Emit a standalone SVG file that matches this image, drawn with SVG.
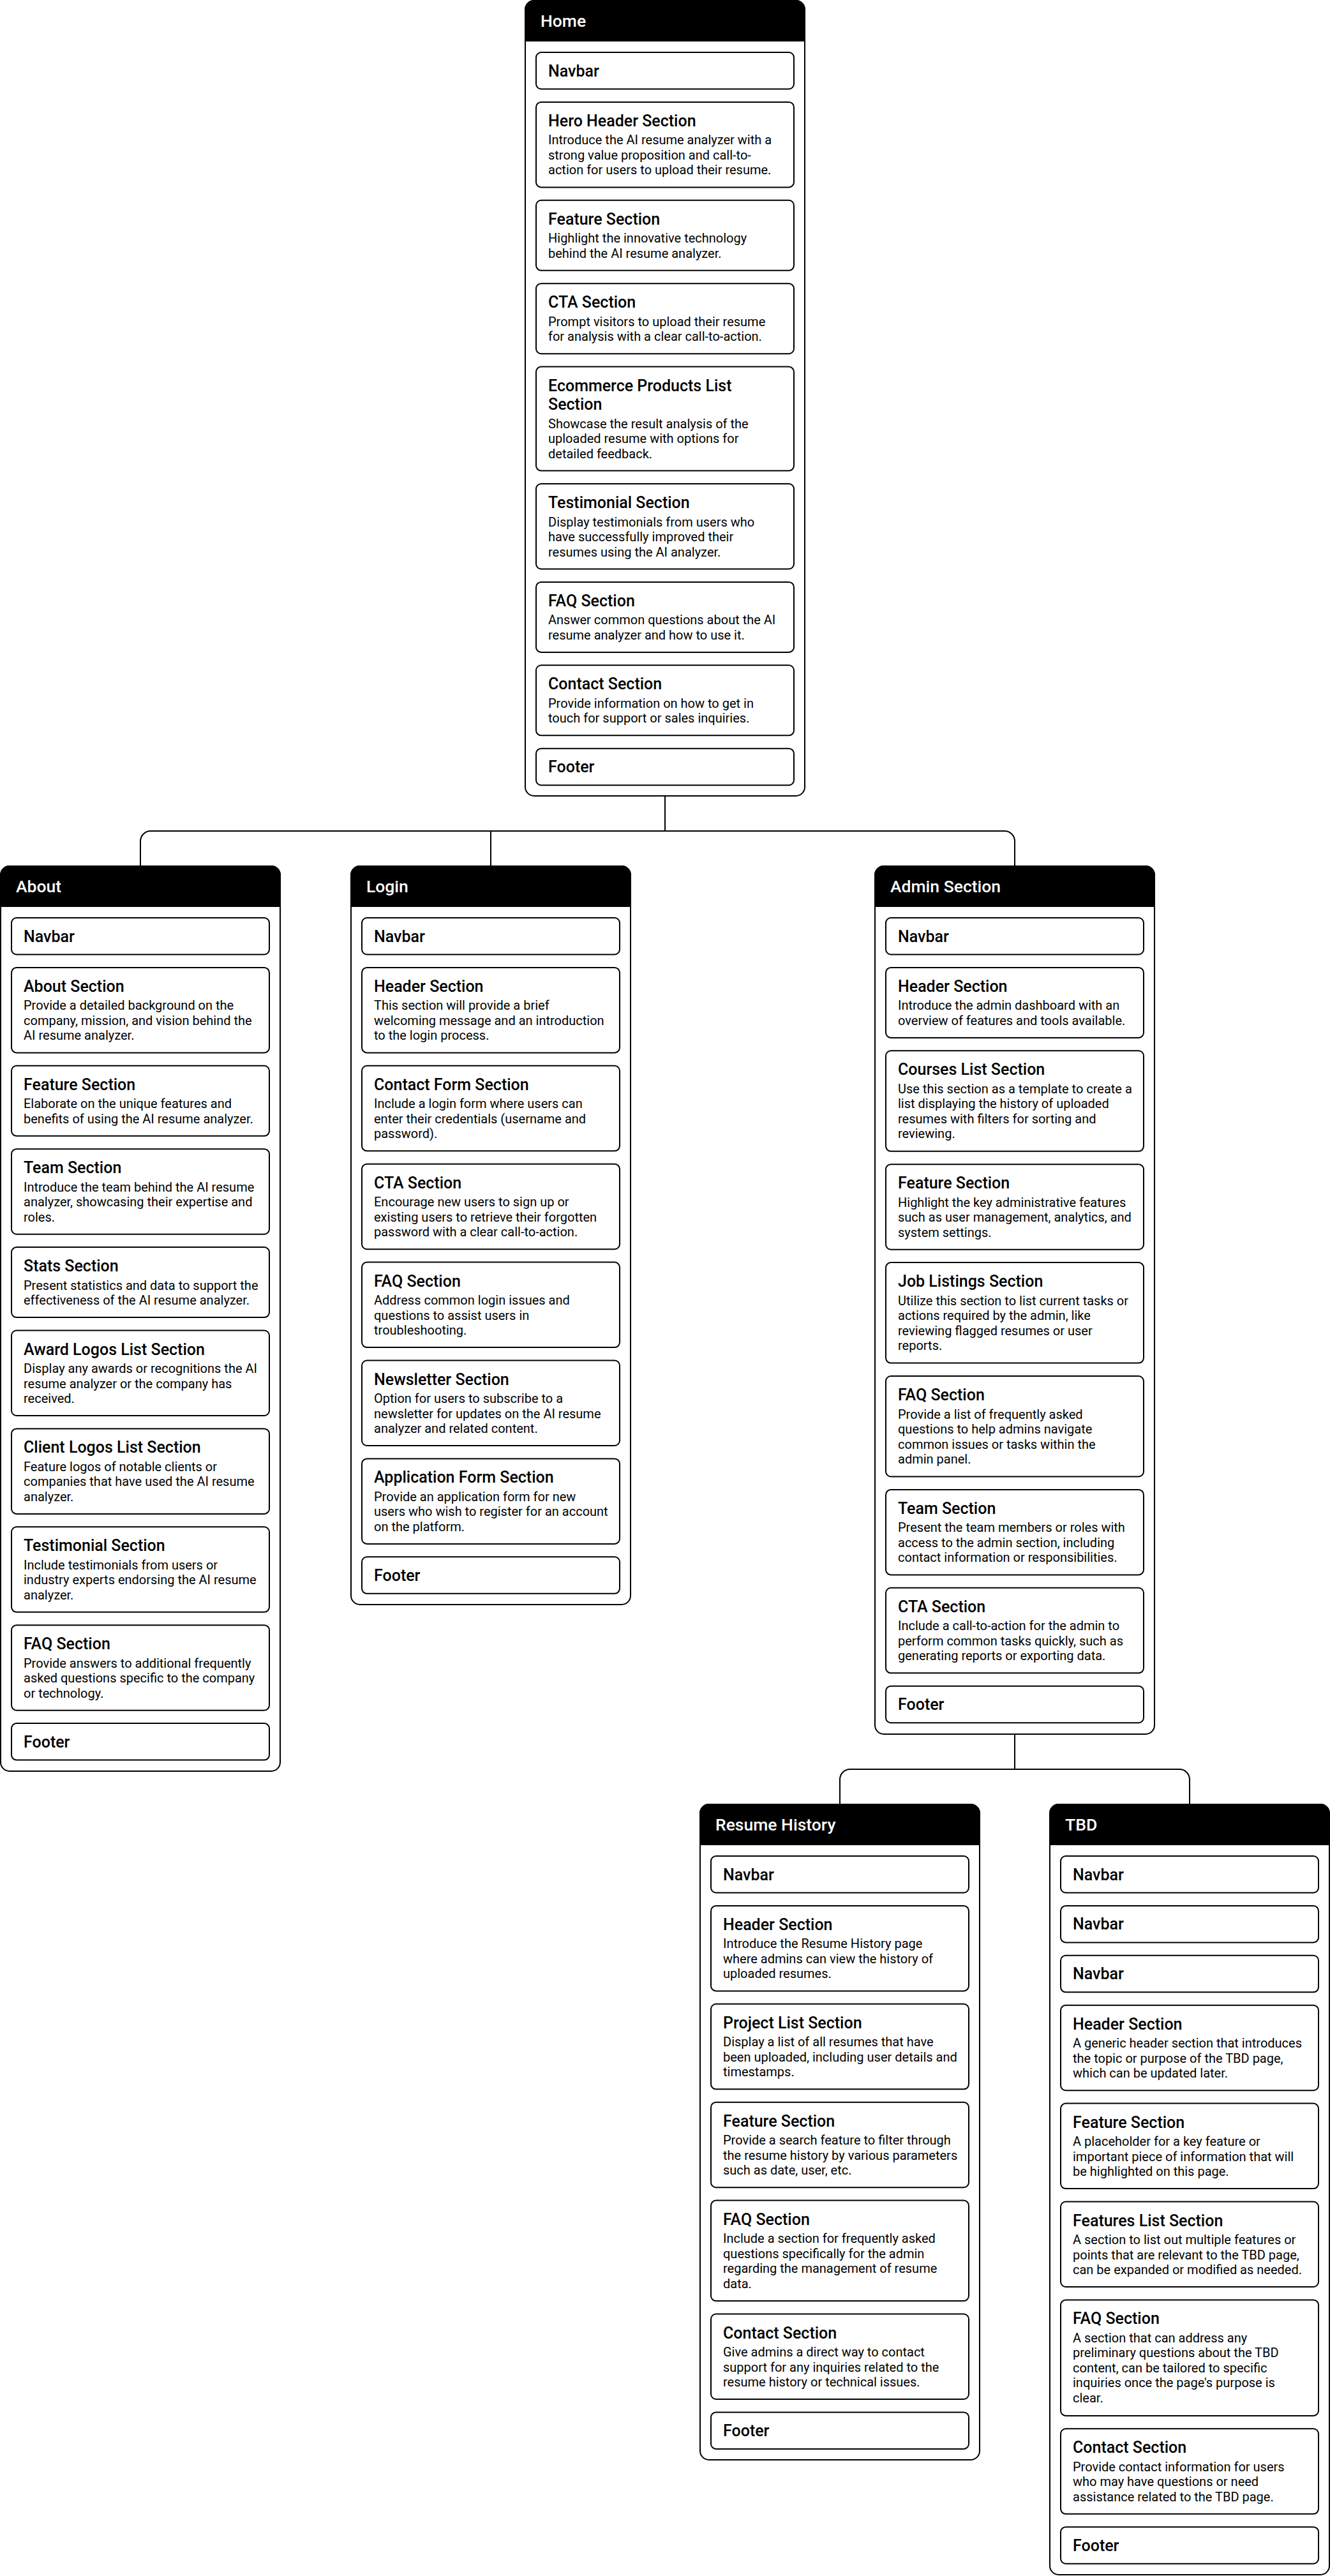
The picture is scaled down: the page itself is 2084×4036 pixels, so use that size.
<svg xmlns="http://www.w3.org/2000/svg" width="2084" height="4036" viewBox="0 0 2084 4036">
<style>
.bg{fill:#fff}
.outer{fill:#fff;stroke:#000;stroke-width:2}
.hdr{fill:#000;stroke:#000;stroke-width:2}
.ht{font-family:Roboto,"Liberation Sans",sans-serif;font-weight:500;font-size:26.5px;fill:#fff}
.box{fill:#fff;stroke:#000;stroke-width:2}
.t{font-family:Roboto,"Liberation Sans",sans-serif;font-weight:500;font-size:25px;fill:#000}
.d{font-family:Roboto,"Liberation Sans",sans-serif;font-weight:400;font-size:20px;fill:#000}
.conn{fill:none;stroke:#000;stroke-width:2}
</style>
<rect class="bg" x="0" y="0" width="2084" height="4036"/>
<g id="connectors">
<path class="conn" d="M1042,1247 V1302"/>
<path class="conn" d="M220,1357 V1318 A16,16 0 0 1 236,1302 H1574 A16,16 0 0 1 1590,1318 V1357"/>
<path class="conn" d="M769,1302 V1357"/>
<path class="conn" d="M1590,2717 V2772"/>
<path class="conn" d="M1316,2827 V2788 A16,16 0 0 1 1332,2772 H1848 A16,16 0 0 1 1864,2788 V2827"/>
</g>

<g id="home">
<rect class="outer" x="823" y="1" width="438" height="1246" rx="14"/>
<path class="hdr" d="M823,64 V15 A14,14 0 0 1 837,1 H1247 A14,14 0 0 1 1261,15 V64 Z"/>
<text class="ht" x="847" y="41.5">Home</text>
<g id="home-navbar"><rect class="box" x="840" y="82" width="404" height="57.5" rx="8"/><text class="t" x="859" y="119.5">Navbar</text></g>
<g id="home-hero"><rect class="box" x="840" y="159.9" width="404" height="133.5" rx="8"/><text class="t" x="859" y="197.9">Hero Header Section</text>
<text class="d"><tspan x="859" y="226.4">Introduce the AI resume analyzer with a</tspan><tspan x="859" y="249.9">strong value proposition and call-to-</tspan><tspan x="859" y="273.4">action for users to upload their resume.</tspan></text></g>
<g id="home-feature"><rect class="box" x="840" y="313.8" width="404" height="110" rx="8"/><text class="t" x="859" y="351.8">Feature Section</text>
<text class="d"><tspan x="859" y="380.3">Highlight the innovative technology</tspan><tspan x="859" y="403.8">behind the AI resume analyzer.</tspan></text></g>
<g id="home-cta"><rect class="box" x="840" y="444.2" width="404" height="110" rx="8"/><text class="t" x="859" y="482.2">CTA Section</text>
<text class="d"><tspan x="859" y="510.7">Prompt visitors to upload their resume</tspan><tspan x="859" y="534.2">for analysis with a clear call-to-action.</tspan></text></g>
<g id="home-ecommerce"><rect class="box" x="840" y="574.6" width="404" height="163" rx="8"/><text class="t"><tspan x="859" y="612.6">Ecommerce Products List</tspan><tspan x="859" y="642.1">Section</tspan></text>
<text class="d"><tspan x="859" y="670.6">Showcase the result analysis of the</tspan><tspan x="859" y="694.1">uploaded resume with options for</tspan><tspan x="859" y="717.6">detailed feedback.</tspan></text></g>
<g id="home-testimonial"><rect class="box" x="840" y="758" width="404" height="133.5" rx="8"/><text class="t" x="859" y="796">Testimonial Section</text>
<text class="d"><tspan x="859" y="824.5">Display testimonials from users who</tspan><tspan x="859" y="848">have successfully improved their</tspan><tspan x="859" y="871.5">resumes using the AI analyzer.</tspan></text></g>
<g id="home-faq"><rect class="box" x="840" y="911.9" width="404" height="110" rx="8"/><text class="t" x="859" y="949.9">FAQ Section</text>
<text class="d"><tspan x="859" y="978.4">Answer common questions about the AI</tspan><tspan x="859" y="1001.9">resume analyzer and how to use it.</tspan></text></g>
<g id="home-contact"><rect class="box" x="840" y="1042.3" width="404" height="110" rx="8"/><text class="t" x="859" y="1080.3">Contact Section</text>
<text class="d"><tspan x="859" y="1108.8">Provide information on how to get in</tspan><tspan x="859" y="1132.3">touch for support or sales inquiries.</tspan></text></g>
<g id="home-footer"><rect class="box" x="840" y="1172.7" width="404" height="57.5" rx="8"/><text class="t" x="859" y="1210.2">Footer</text></g>
</g>

<g id="about">
<rect class="outer" x="1" y="1357" width="438" height="1418" rx="14"/>
<path class="hdr" d="M1,1420 V1371 A14,14 0 0 1 15,1357 H425 A14,14 0 0 1 439,1371 V1420 Z"/>
<text class="ht" x="25" y="1397.5">About</text>
<g id="about-navbar"><rect class="box" x="18" y="1438" width="404" height="57.5" rx="8"/><text class="t" x="37" y="1475.5">Navbar</text></g>
<g id="about-about"><rect class="box" x="18" y="1515.9" width="404" height="133.5" rx="8"/><text class="t" x="37" y="1553.9">About Section</text>
<text class="d"><tspan x="37" y="1582.4">Provide a detailed background on the</tspan><tspan x="37" y="1605.9">company, mission, and vision behind the</tspan><tspan x="37" y="1629.4">AI resume analyzer.</tspan></text></g>
<g id="about-feature"><rect class="box" x="18" y="1669.8" width="404" height="110" rx="8"/><text class="t" x="37" y="1707.8">Feature Section</text>
<text class="d"><tspan x="37" y="1736.3">Elaborate on the unique features and</tspan><tspan x="37" y="1759.8">benefits of using the AI resume analyzer.</tspan></text></g>
<g id="about-team"><rect class="box" x="18" y="1800.2" width="404" height="133.5" rx="8"/><text class="t" x="37" y="1838.2">Team Section</text>
<text class="d"><tspan x="37" y="1866.7">Introduce the team behind the AI resume</tspan><tspan x="37" y="1890.2">analyzer, showcasing their expertise and</tspan><tspan x="37" y="1913.7">roles.</tspan></text></g>
<g id="about-stats"><rect class="box" x="18" y="1954.1" width="404" height="110" rx="8"/><text class="t" x="37" y="1992.1">Stats Section</text>
<text class="d"><tspan x="37" y="2020.6">Present statistics and data to support the</tspan><tspan x="37" y="2044.1">effectiveness of the AI resume analyzer.</tspan></text></g>
<g id="about-award"><rect class="box" x="18" y="2084.5" width="404" height="133.5" rx="8"/><text class="t" x="37" y="2122.5">Award Logos List Section</text>
<text class="d"><tspan x="37" y="2151">Display any awards or recognitions the AI</tspan><tspan x="37" y="2174.5">resume analyzer or the company has</tspan><tspan x="37" y="2198">received.</tspan></text></g>
<g id="about-client"><rect class="box" x="18" y="2238.4" width="404" height="133.5" rx="8"/><text class="t" x="37" y="2276.4">Client Logos List Section</text>
<text class="d"><tspan x="37" y="2304.9">Feature logos of notable clients or</tspan><tspan x="37" y="2328.4">companies that have used the AI resume</tspan><tspan x="37" y="2351.9">analyzer.</tspan></text></g>
<g id="about-testimonial"><rect class="box" x="18" y="2392.3" width="404" height="133.5" rx="8"/><text class="t" x="37" y="2430.3">Testimonial Section</text>
<text class="d"><tspan x="37" y="2458.8">Include testimonials from users or</tspan><tspan x="37" y="2482.3">industry experts endorsing the AI resume</tspan><tspan x="37" y="2505.8">analyzer.</tspan></text></g>
<g id="about-faq"><rect class="box" x="18" y="2546.2" width="404" height="133.5" rx="8"/><text class="t" x="37" y="2584.2">FAQ Section</text>
<text class="d"><tspan x="37" y="2612.7">Provide answers to additional frequently</tspan><tspan x="37" y="2636.2">asked questions specific to the company</tspan><tspan x="37" y="2659.7">or technology.</tspan></text></g>
<g id="about-footer"><rect class="box" x="18" y="2700.1" width="404" height="57.5" rx="8"/><text class="t" x="37" y="2737.6">Footer</text></g>
</g>

<g id="login">
<rect class="outer" x="550" y="1357" width="438" height="1157" rx="14"/>
<path class="hdr" d="M550,1420 V1371 A14,14 0 0 1 564,1357 H974 A14,14 0 0 1 988,1371 V1420 Z"/>
<text class="ht" x="574" y="1397.5">Login</text>
<g id="login-navbar"><rect class="box" x="567" y="1438" width="404" height="57.5" rx="8"/><text class="t" x="586" y="1475.5">Navbar</text></g>
<g id="login-header"><rect class="box" x="567" y="1515.9" width="404" height="133.5" rx="8"/><text class="t" x="586" y="1553.9">Header Section</text>
<text class="d"><tspan x="586" y="1582.4">This section will provide a brief</tspan><tspan x="586" y="1605.9">welcoming message and an introduction</tspan><tspan x="586" y="1629.4">to the login process.</tspan></text></g>
<g id="login-contactform"><rect class="box" x="567" y="1669.8" width="404" height="133.5" rx="8"/><text class="t" x="586" y="1707.8">Contact Form Section</text>
<text class="d"><tspan x="586" y="1736.3">Include a login form where users can</tspan><tspan x="586" y="1759.8">enter their credentials (username and</tspan><tspan x="586" y="1783.3">password).</tspan></text></g>
<g id="login-cta"><rect class="box" x="567" y="1823.7" width="404" height="133.5" rx="8"/><text class="t" x="586" y="1861.7">CTA Section</text>
<text class="d"><tspan x="586" y="1890.2">Encourage new users to sign up or</tspan><tspan x="586" y="1913.7">existing users to retrieve their forgotten</tspan><tspan x="586" y="1937.2">password with a clear call-to-action.</tspan></text></g>
<g id="login-faq"><rect class="box" x="567" y="1977.6" width="404" height="133.5" rx="8"/><text class="t" x="586" y="2015.6">FAQ Section</text>
<text class="d"><tspan x="586" y="2044.1">Address common login issues and</tspan><tspan x="586" y="2067.6">questions to assist users in</tspan><tspan x="586" y="2091.1">troubleshooting.</tspan></text></g>
<g id="login-newsletter"><rect class="box" x="567" y="2131.5" width="404" height="133.5" rx="8"/><text class="t" x="586" y="2169.5">Newsletter Section</text>
<text class="d"><tspan x="586" y="2198">Option for users to subscribe to a</tspan><tspan x="586" y="2221.5">newsletter for updates on the AI resume</tspan><tspan x="586" y="2245">analyzer and related content.</tspan></text></g>
<g id="login-application"><rect class="box" x="567" y="2285.4" width="404" height="133.5" rx="8"/><text class="t" x="586" y="2323.4">Application Form Section</text>
<text class="d"><tspan x="586" y="2351.9">Provide an application form for new</tspan><tspan x="586" y="2375.4">users who wish to register for an account</tspan><tspan x="586" y="2398.9">on the platform.</tspan></text></g>
<g id="login-footer"><rect class="box" x="567" y="2439.3" width="404" height="57.5" rx="8"/><text class="t" x="586" y="2476.8">Footer</text></g>
</g>

<g id="admin">
<rect class="outer" x="1371" y="1357" width="438" height="1360" rx="14"/>
<path class="hdr" d="M1371,1420 V1371 A14,14 0 0 1 1385,1357 H1795 A14,14 0 0 1 1809,1371 V1420 Z"/>
<text class="ht" x="1395" y="1397.5">Admin Section</text>
<g id="admin-navbar"><rect class="box" x="1388" y="1438" width="404" height="57.5" rx="8"/><text class="t" x="1407" y="1475.5">Navbar</text></g>
<g id="admin-header"><rect class="box" x="1388" y="1515.9" width="404" height="110" rx="8"/><text class="t" x="1407" y="1553.9">Header Section</text>
<text class="d"><tspan x="1407" y="1582.4">Introduce the admin dashboard with an</tspan><tspan x="1407" y="1605.9">overview of features and tools available.</tspan></text></g>
<g id="admin-courses"><rect class="box" x="1388" y="1646.3" width="404" height="157.5" rx="8"/><text class="t" x="1407" y="1684.3">Courses List Section</text>
<text class="d"><tspan x="1407" y="1712.8">Use this section as a template to create a</tspan><tspan x="1407" y="1736.3">list displaying the history of uploaded</tspan><tspan x="1407" y="1759.8">resumes with filters for sorting and</tspan><tspan x="1407" y="1783.3">reviewing.</tspan></text></g>
<g id="admin-feature"><rect class="box" x="1388" y="1824.2" width="404" height="133.5" rx="8"/><text class="t" x="1407" y="1862.2">Feature Section</text>
<text class="d"><tspan x="1407" y="1890.7">Highlight the key administrative features</tspan><tspan x="1407" y="1914.2">such as user management, analytics, and</tspan><tspan x="1407" y="1937.7">system settings.</tspan></text></g>
<g id="admin-jobs"><rect class="box" x="1388" y="1978.1" width="404" height="157.5" rx="8"/><text class="t" x="1407" y="2016.1">Job Listings Section</text>
<text class="d"><tspan x="1407" y="2044.6">Utilize this section to list current tasks or</tspan><tspan x="1407" y="2068.1">actions required by the admin, like</tspan><tspan x="1407" y="2091.6">reviewing flagged resumes or user</tspan><tspan x="1407" y="2115.1">reports.</tspan></text></g>
<g id="admin-faq"><rect class="box" x="1388" y="2156" width="404" height="157.5" rx="8"/><text class="t" x="1407" y="2194">FAQ Section</text>
<text class="d"><tspan x="1407" y="2222.5">Provide a list of frequently asked</tspan><tspan x="1407" y="2246">questions to help admins navigate</tspan><tspan x="1407" y="2269.5">common issues or tasks within the</tspan><tspan x="1407" y="2293">admin panel.</tspan></text></g>
<g id="admin-team"><rect class="box" x="1388" y="2333.9" width="404" height="133.5" rx="8"/><text class="t" x="1407" y="2371.9">Team Section</text>
<text class="d"><tspan x="1407" y="2400.4">Present the team members or roles with</tspan><tspan x="1407" y="2423.9">access to the admin section, including</tspan><tspan x="1407" y="2447.4">contact information or responsibilities.</tspan></text></g>
<g id="admin-cta"><rect class="box" x="1388" y="2487.8" width="404" height="133.5" rx="8"/><text class="t" x="1407" y="2525.8">CTA Section</text>
<text class="d"><tspan x="1407" y="2554.3">Include a call-to-action for the admin to</tspan><tspan x="1407" y="2577.8">perform common tasks quickly, such as</tspan><tspan x="1407" y="2601.3">generating reports or exporting data.</tspan></text></g>
<g id="admin-footer"><rect class="box" x="1388" y="2641.7" width="404" height="57.5" rx="8"/><text class="t" x="1407" y="2679.2">Footer</text></g>
</g>

<g id="resume-history">
<rect class="outer" x="1097" y="2827" width="438" height="1027" rx="14"/>
<path class="hdr" d="M1097,2890 V2841 A14,14 0 0 1 1111,2827 H1521 A14,14 0 0 1 1535,2841 V2890 Z"/>
<text class="ht" x="1121" y="2867.5">Resume History</text>
<g id="rh-navbar"><rect class="box" x="1114" y="2908" width="404" height="57.5" rx="8"/><text class="t" x="1133" y="2945.5">Navbar</text></g>
<g id="rh-header"><rect class="box" x="1114" y="2985.9" width="404" height="133.5" rx="8"/><text class="t" x="1133" y="3023.9">Header Section</text>
<text class="d"><tspan x="1133" y="3052.4">Introduce the Resume History page</tspan><tspan x="1133" y="3075.9">where admins can view the history of</tspan><tspan x="1133" y="3099.4">uploaded resumes.</tspan></text></g>
<g id="rh-project"><rect class="box" x="1114" y="3139.8" width="404" height="133.5" rx="8"/><text class="t" x="1133" y="3177.8">Project List Section</text>
<text class="d"><tspan x="1133" y="3206.3">Display a list of all resumes that have</tspan><tspan x="1133" y="3229.8">been uploaded, including user details and</tspan><tspan x="1133" y="3253.3">timestamps.</tspan></text></g>
<g id="rh-feature"><rect class="box" x="1114" y="3293.7" width="404" height="133.5" rx="8"/><text class="t" x="1133" y="3331.7">Feature Section</text>
<text class="d"><tspan x="1133" y="3360.2">Provide a search feature to filter through</tspan><tspan x="1133" y="3383.7">the resume history by various parameters</tspan><tspan x="1133" y="3407.2">such as date, user, etc.</tspan></text></g>
<g id="rh-faq"><rect class="box" x="1114" y="3447.6" width="404" height="157.5" rx="8"/><text class="t" x="1133" y="3485.6">FAQ Section</text>
<text class="d"><tspan x="1133" y="3514.1">Include a section for frequently asked</tspan><tspan x="1133" y="3537.6">questions specifically for the admin</tspan><tspan x="1133" y="3561.1">regarding the management of resume</tspan><tspan x="1133" y="3584.6">data.</tspan></text></g>
<g id="rh-contact"><rect class="box" x="1114" y="3625.5" width="404" height="133.5" rx="8"/><text class="t" x="1133" y="3663.5">Contact Section</text>
<text class="d"><tspan x="1133" y="3692">Give admins a direct way to contact</tspan><tspan x="1133" y="3715.5">support for any inquiries related to the</tspan><tspan x="1133" y="3739">resume history or technical issues.</tspan></text></g>
<g id="rh-footer"><rect class="box" x="1114" y="3779.4" width="404" height="57.5" rx="8"/><text class="t" x="1133" y="3816.9">Footer</text></g>
</g>

<g id="tbd">
<rect class="outer" x="1645" y="2827" width="438" height="1207" rx="14"/>
<path class="hdr" d="M1645,2890 V2841 A14,14 0 0 1 1659,2827 H2069 A14,14 0 0 1 2083,2841 V2890 Z"/>
<text class="ht" x="1669" y="2867.5">TBD</text>
<g id="tbd-navbar-1"><rect class="box" x="1662" y="2908" width="404" height="57.5" rx="8"/><text class="t" x="1681" y="2945.5">Navbar</text></g>
<g id="tbd-navbar-2"><rect class="box" x="1662" y="2985.9" width="404" height="57.5" rx="8"/><text class="t" x="1681" y="3023.4">Navbar</text></g>
<g id="tbd-navbar-3"><rect class="box" x="1662" y="3063.8" width="404" height="57.5" rx="8"/><text class="t" x="1681" y="3101.3">Navbar</text></g>
<g id="tbd-header"><rect class="box" x="1662" y="3141.7" width="404" height="133.5" rx="8"/><text class="t" x="1681" y="3179.7">Header Section</text>
<text class="d"><tspan x="1681" y="3208.2">A generic header section that introduces</tspan><tspan x="1681" y="3231.7">the topic or purpose of the TBD page,</tspan><tspan x="1681" y="3255.2">which can be updated later.</tspan></text></g>
<g id="tbd-feature"><rect class="box" x="1662" y="3295.6" width="404" height="133.5" rx="8"/><text class="t" x="1681" y="3333.6">Feature Section</text>
<text class="d"><tspan x="1681" y="3362.1">A placeholder for a key feature or</tspan><tspan x="1681" y="3385.6">important piece of information that will</tspan><tspan x="1681" y="3409.1">be highlighted on this page.</tspan></text></g>
<g id="tbd-features-list"><rect class="box" x="1662" y="3449.5" width="404" height="133.5" rx="8"/><text class="t" x="1681" y="3487.5">Features List Section</text>
<text class="d"><tspan x="1681" y="3516">A section to list out multiple features or</tspan><tspan x="1681" y="3539.5">points that are relevant to the TBD page,</tspan><tspan x="1681" y="3563">can be expanded or modified as needed.</tspan></text></g>
<g id="tbd-faq"><rect class="box" x="1662" y="3603.4" width="404" height="181.5" rx="8"/><text class="t" x="1681" y="3641.4">FAQ Section</text>
<text class="d"><tspan x="1681" y="3669.9">A section that can address any</tspan><tspan x="1681" y="3693.4">preliminary questions about the TBD</tspan><tspan x="1681" y="3716.9">content, can be tailored to specific</tspan><tspan x="1681" y="3740.4">inquiries once the page's purpose is</tspan><tspan x="1681" y="3763.9">clear.</tspan></text></g>
<g id="tbd-contact"><rect class="box" x="1662" y="3805.3" width="404" height="133.5" rx="8"/><text class="t" x="1681" y="3843.3">Contact Section</text>
<text class="d"><tspan x="1681" y="3871.8">Provide contact information for users</tspan><tspan x="1681" y="3895.3">who may have questions or need</tspan><tspan x="1681" y="3918.8">assistance related to the TBD page.</tspan></text></g>
<g id="tbd-footer"><rect class="box" x="1662" y="3959.2" width="404" height="57.5" rx="8"/><text class="t" x="1681" y="3996.7">Footer</text></g>
</g>
</svg>
